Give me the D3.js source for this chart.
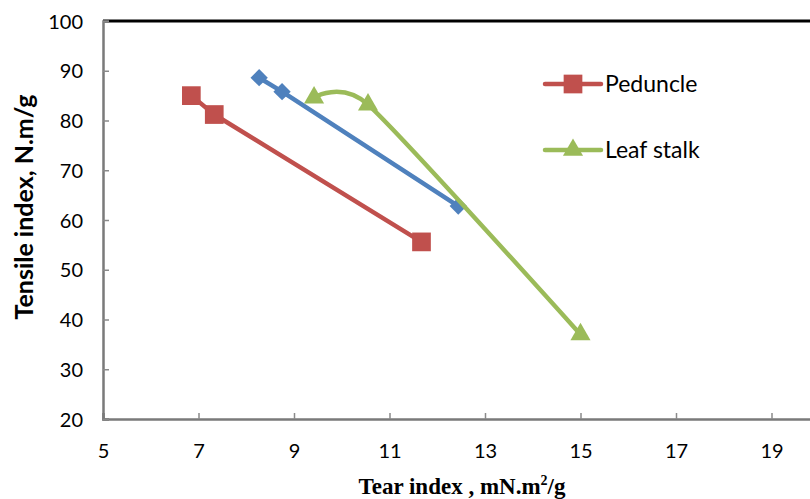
<!DOCTYPE html>
<html>
<head>
<meta charset="utf-8">
<style>
  body { margin: 0; background: #fff; }
  svg { display: block; }
  .tick text { font-family: "Lato", sans-serif; font-size: 20px; fill: #000; }
</style>
</head>
<body>
<svg width="810" height="499"></svg>
<script src="https://d3js.org/d3.v7.min.js"></script>
<script>
// series values
const peduncleX = [6.85, 7.33, 11.67];
const peduncleY = [85.0, 81.2, 55.6];

const thirdX = [8.27, 8.75, 12.44];
const thirdY = [88.6, 85.8, 62.8];

const leafX = [9.42, 10.55, 15.0];
const leafY = [84.6, 83.2, 37.0];

const xTicks = [5, 7, 9, 11, 13, 15, 17, 19];
const yTicks = [20, 30, 40, 50, 60, 70, 80, 90, 100];

const svg = d3.select("svg");

// plot runs past the right edge of the picture (axis goes to 21)
const x = d3.scaleLinear().domain([5, 21]).range([103, 867]);
const y = d3.scaleLinear().domain([20, 100]).range([419, 21]);

// top border
svg.append("line")
  .attr("x1", x(5)).attr("x2", 810)
  .attr("y1", y(100)).attr("y2", y(100))
  .style("stroke", "#000").style("stroke-width", 3);

// axes
const xAxis = svg.append("g")
  .attr("transform", `translate(0,${y(20)})`)
  .call(d3.axisBottom(x).tickValues(xTicks).tickSize(-6).tickPadding(25).tickFormat(d3.format("d")));

const yAxis = svg.append("g")
  .attr("transform", `translate(${x(5)},0)`)
  .call(d3.axisLeft(y).tickValues(yTicks).tickSize(-6).tickPadding(20).tickFormat(d3.format("d")));

[xAxis, yAxis].forEach(g => {
  g.select(".domain").style("stroke", "#7a7a7a").style("stroke-width", 2.5);
  g.selectAll(".tick line").style("stroke", "#8a8a8a").style("stroke-width", 1.5);
});
yAxis.selectAll(".tick text").attr("dy", "0.35em");

// series
const series = [
  { name: "Peduncle", xs: peduncleX, ys: peduncleY, color: "#C0504D", shape: d3.symbolSquare, size: 350, curve: d3.curveLinear, rot: 0 },
  { name: null, xs: thirdX, ys: thirdY, color: "#4F81BD", shape: d3.symbolSquare, size: 150, curve: d3.curveLinear, rot: 45 },
  { name: "Leaf stalk", xs: leafX, ys: leafY, color: "#9BBB59", shape: d3.symbolTriangle, size: 175, curve: d3.curveCardinal.tension(0.4), rot: 0 }
];

series.forEach(s => {
  const pts = s.xs.map((v, i) => [v, s.ys[i]]);
  const line = d3.line().x(d => x(d[0])).y(d => y(d[1])).curve(s.curve);
  svg.append("path")
    .attr("d", line(pts))
    .style("fill", "none")
    .style("stroke", s.color)
    .style("stroke-width", 4.5)
    .style("stroke-linejoin", "round");
  svg.selectAll(null)
    .data(pts)
    .join("path")
    .attr("d", d3.symbol().type(s.shape).size(s.size))
    .attr("transform", d => `translate(${x(d[0])},${y(d[1])}) rotate(${s.rot})`)
    .style("fill", s.color);
});

// legend
const legend = svg.append("g").attr("transform", "translate(545,0)");
series.filter(s => s.name).forEach((s, i) => {
  const ly = 84 + i * 66;
  legend.append("line")
    .attr("x1", 0).attr("x2", 56).attr("y1", ly).attr("y2", ly)
    .style("stroke", s.color).style("stroke-width", 4.5).style("stroke-linecap", "round");
  legend.append("path")
    .attr("d", d3.symbol().type(s.shape).size(s.size))
    .attr("transform", `translate(28,${ly})`)
    .style("fill", s.color);
  legend.append("text")
    .attr("x", 60).attr("y", ly).attr("dy", "0.35em")
    .style("font-family", "Lato, sans-serif").style("font-size", "23px")
    .text(s.name);
});

// axis titles
svg.append("text")
  .attr("transform", "translate(33,207) rotate(-90)")
  .attr("text-anchor", "middle")
  .style("font-family", "Lato, sans-serif").style("font-size", "25px").style("font-weight", "bold")
  .text("Tensile index, N.m/g");

const xt = svg.append("text")
  .attr("x", 462).attr("y", 494)
  .attr("text-anchor", "middle")
  .style("font-family", "'Liberation Serif', serif").style("font-size", "23px").style("font-weight", "bold");
xt.append("tspan").text("Tear index , mN.m");
xt.append("tspan").attr("dy", -9).style("font-size", "14px").text("2");
xt.append("tspan").attr("dy", 9).text("/g");
</script>
</body>
</html>
